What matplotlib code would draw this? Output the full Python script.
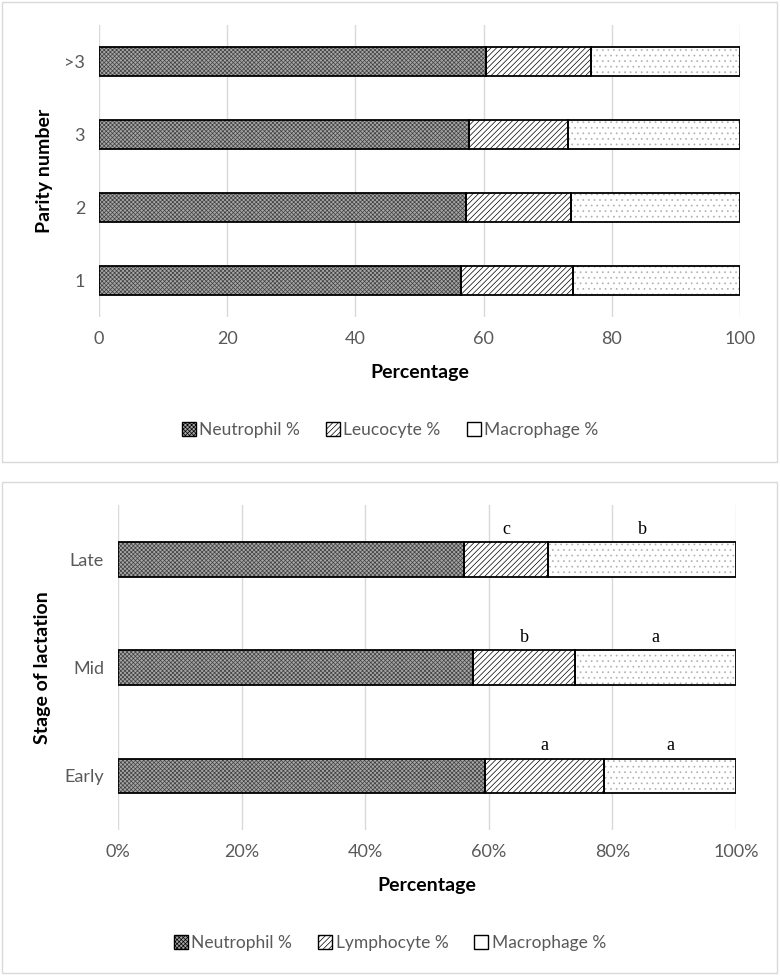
import matplotlib.pyplot as plt
from matplotlib.patches import Patch, Rectangle
import numpy as np

plt.rcParams['font.family'] = ['Lato', 'DejaVu Sans']
plt.rcParams['hatch.linewidth'] = 0.5

# top panel: parity number
parity = ['1', '2', '3', '>3']
neut_par = [56.5, 57.2, 57.8, 60.3]
leuc_par = [17.5, 16.5, 15.3, 16.4]
mac_par = [26.0, 26.3, 26.9, 23.3]

# bottom panel: stage of lactation
stage = ['Early', 'Mid', 'Late']
neut_st = [59.4, 57.5, 56.0]
lymph_st = [19.3, 16.5, 13.6]
mac_st = [21.3, 26.0, 30.4]
lymph_letters = ['a', 'b', 'c']
mac_letters = ['a', 'a', 'b']

tick_col = '#595959'
grid_col = '#d9d9d9'

fig = plt.figure(figsize=(7.8, 9.76), dpi=100)

# light panel frames
for y0, y1 in [(2, 462), (482, 973)]:
    fig.patches.append(Rectangle((2 / 780, 1 - y1 / 976), 775 / 780, (y1 - y0) / 976,
                                 transform=fig.transFigure, fill=False,
                                 edgecolor='#d9d9d9', linewidth=1))


def stacked(ax, cats, neut, mid, mac, h):
    y = np.arange(len(cats))
    neut = np.array(neut)
    mid = np.array(mid)
    mac = np.array(mac)
    ax.barh(y, neut, height=h, color='#a6a6a6', edgecolor='#404040', hatch='xxxxxxxx',
            linewidth=0, zorder=3)
    ax.barh(y, mid, left=neut, height=h, color='white', edgecolor='black', hatch='//////',
            linewidth=0, zorder=3)
    ax.barh(y, mac, left=neut + mid, height=h, color='white', edgecolor='#b0b0b0', hatch='...',
            linewidth=0, zorder=3)
    # outlines
    ax.barh(y, neut, height=h, fill=False, edgecolor='black', linewidth=1.3, zorder=4)
    ax.barh(y, mid, left=neut, height=h, fill=False, edgecolor='black', linewidth=1.3, zorder=4)
    ax.barh(y, mac, left=neut + mid, height=h, fill=False, edgecolor='black', linewidth=1.3, zorder=4)
    ax.set_yticks(y)
    ax.set_yticklabels(cats)
    ax.set_ylim(-0.5, len(cats) - 0.5)
    ax.set_xlim(0, 100)
    ax.set_xticks(np.arange(0, 101, 20))
    ax.grid(axis='x', color=grid_col, linewidth=1, zorder=0)
    for s in ax.spines.values():
        s.set_visible(False)
    ax.tick_params(length=0, labelsize=13, colors=tick_col, pad=10)
    return y


def legend_handles(mid_name):
    return [Patch(facecolor='#a6a6a6', edgecolor='black', hatch='xxxxxxxx', label='Neutrophil %'),
            Patch(facecolor='white', edgecolor='black', hatch='//////', label=mid_name),
            Patch(facecolor='white', edgecolor='black', label='Macrophage %')]


# top chart
ax1 = fig.add_axes([99 / 780, 1 - 317 / 976, 641 / 780, 292 / 976])
stacked(ax1, parity, neut_par, leuc_par, mac_par, 0.40)
ax1.set_xlabel('Percentage', fontsize=14, fontweight='bold', color='black', labelpad=12)
ax1.set_ylabel('Parity number', fontsize=14, fontweight='bold', color='black', labelpad=8)
fig.legend(handles=legend_handles('Leucocyte %'), loc='center', bbox_to_anchor=(0.5, 1 - 430 / 976),
           ncol=3, frameon=False, fontsize=12.5, labelcolor=tick_col, handlelength=0.8,
           handleheight=0.8, handletextpad=0.2, columnspacing=1.5)

# bottom chart
ax2 = fig.add_axes([118 / 780, 1 - 830 / 976, 618 / 780, 325 / 976])
y2 = stacked(ax2, stage, neut_st, lymph_st, mac_st, 0.32)
ax2.set_xticklabels([f'{v}%' for v in range(0, 101, 20)])
ax2.set_xlabel('Percentage', fontsize=14, fontweight='bold', color='black', labelpad=12)
ax2.set_ylabel('Stage of lactation', fontsize=14, fontweight='bold', color='black', labelpad=10)

for i in range(len(stage)):
    xl = neut_st[i] + lymph_st[i] / 2
    xm = neut_st[i] + lymph_st[i] + mac_st[i] / 2
    ax2.text(xl, y2[i] + 0.2, lymph_letters[i], ha='center', va='bottom', fontsize=13,
             family='Liberation Serif', color='black')
    ax2.text(xm, y2[i] + 0.2, mac_letters[i], ha='center', va='bottom', fontsize=13,
             family='Liberation Serif', color='black')

fig.legend(handles=legend_handles('Lymphocyte %'), loc='center', bbox_to_anchor=(0.5, 1 - 943 / 976),
           ncol=3, frameon=False, fontsize=12.5, labelcolor=tick_col, handlelength=0.8,
           handleheight=0.8, handletextpad=0.2, columnspacing=1.5)

fig.savefig('out.png', dpi=100)
